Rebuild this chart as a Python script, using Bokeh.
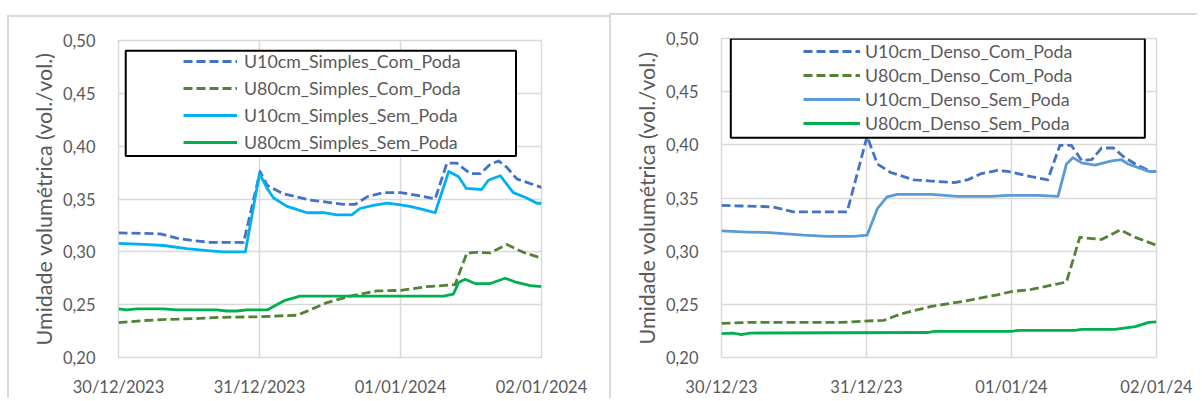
from bokeh.plotting import figure
from bokeh.models import (Legend, LegendItem, BoxAnnotation, FixedTicker, Range1d,
                          CustomJSTickFormatter)
from bokeh.layouts import row
from bokeh.embed import file_html
from bokeh.resources import INLINE

# ---------------- data (hours since 30/12 00:00) ----------------
DAY_TICKS = [0, 24, 48, 72]
S_TICK_LABELS = ["30/12/2023", "31/12/2023", "01/01/2024", "02/01/2024"]
D_TICK_LABELS = ["30/12/23", "31/12/23", "01/01/24", "02/01/24"]
Y_TICKS = [0.20, 0.25, 0.30, 0.35, 0.40, 0.45, 0.50]
Y_TITLE = "Umidade volumétrica (vol./vol.)"

# Simples
S_U10_COM_H = [0, 7.1, 9.9, 12.2, 15.6, 21.3, 24.1, 25.3, 28.0, 32.6, 38.3, 40.3, 42.3, 45.1,
               48.0, 51.4, 53.9, 55.9, 57.6, 58.7, 59.9, 61.6, 63.3, 64.7, 66.1, 67.8, 72.0]
S_U10_COM = [0.318, 0.317, 0.313, 0.311, 0.309, 0.309, 0.376, 0.363, 0.355, 0.349, 0.345, 0.345,
             0.352, 0.356, 0.356, 0.353, 0.350, 0.384, 0.384, 0.379, 0.374, 0.374, 0.383, 0.386,
             0.380, 0.369, 0.361]
S_U80_COM_H = [0, 4.3, 8.2, 13.9, 17.3, 23.5, 30.4, 32.6, 35.5, 39.4, 44.0, 48.0, 52.5, 57.3,
               59.3, 61.0, 63.3, 66.1, 68.9, 72.0]
S_U80_COM = [0.233, 0.235, 0.236, 0.237, 0.238, 0.2385, 0.240, 0.245, 0.252, 0.258, 0.263, 0.2635,
             0.267, 0.269, 0.299, 0.2995, 0.299, 0.307, 0.2995, 0.294]
S_U10_SEM_H = [0, 4.3, 7.7, 11.6, 15.6, 17.9, 21.6, 24.0, 25.3, 26.4, 28.7, 32.1, 34.9, 37.2,
               39.7, 41.1, 43.4, 45.7, 47.4, 49.6, 51.9, 53.9, 56.2, 57.9, 59.2, 61.8, 63.0,
               65.0, 67.2, 69.5, 71.2, 72.0]
S_U10_SEM = [0.308, 0.307, 0.306, 0.303, 0.301, 0.300, 0.300, 0.374, 0.360, 0.351, 0.343, 0.337,
             0.337, 0.335, 0.335, 0.341, 0.344, 0.346, 0.345, 0.343, 0.340, 0.337, 0.376, 0.371,
             0.360, 0.359, 0.368, 0.372, 0.356, 0.351, 0.346, 0.346]
S_U80_SEM_H = [0, 1.4, 3.1, 7.7, 9.9, 16.7, 18.4, 20.1, 21.9, 25.3, 28.1, 30.9, 55.3, 57.0,
               57.9, 59.0, 60.7, 63.3, 65.8, 67.8, 70.1, 72.0]
S_U80_SEM = [0.246, 0.245, 0.246, 0.246, 0.245, 0.245, 0.244, 0.244, 0.245, 0.245, 0.2535, 0.258,
             0.258, 0.260, 0.271, 0.274, 0.270, 0.270, 0.275, 0.271, 0.268, 0.267]

# Denso
D_U10_COM_H = [0, 6.9, 8.6, 11.9, 20.8, 24.1, 25.8, 28.0, 31.9, 38.5, 40.7, 43.0, 45.7, 47.4,
               51.3, 54.0, 56.0, 57.9, 59.6, 61.3, 62.9, 64.9, 66.5, 68.5, 71.0, 72.0]
D_U10_COM = [0.343, 0.342, 0.3415, 0.337, 0.337, 0.408, 0.382, 0.374, 0.367, 0.3645, 0.367,
             0.373, 0.376, 0.375, 0.370, 0.367, 0.3995, 0.3995, 0.3855, 0.386, 0.397, 0.397,
             0.389, 0.382, 0.375, 0.375]
D_U80_COM_H = [0, 4.2, 19.7, 23.0, 26.9, 29.7, 34.7, 40.2, 45.7, 48.0, 51.3, 57.1, 59.3, 62.9,
               66.0, 68.5, 72.0]
D_U80_COM = [0.232, 0.233, 0.233, 0.234, 0.235, 0.241, 0.248, 0.253, 0.259, 0.262, 0.264, 0.271,
             0.313, 0.311, 0.320, 0.313, 0.3055]
D_U10_SEM_H = [0, 4.2, 8.0, 13.6, 17.5, 21.9, 24.1, 25.8, 27.4, 29.1, 34.7, 39.1, 44.6, 47.4,
               52.4, 55.7, 57.1, 58.2, 59.6, 61.8, 64.6, 66.2, 67.3, 70.7, 72.0]
D_U10_SEM = [0.319, 0.318, 0.3175, 0.315, 0.314, 0.314, 0.315, 0.340, 0.351, 0.3535, 0.3535,
             0.3515, 0.3515, 0.3525, 0.3525, 0.3515, 0.382, 0.388, 0.383, 0.381, 0.385, 0.386,
             0.382, 0.375, 0.375]
D_U80_SEM_H = [0, 1.9, 3.3, 4.7, 34.1, 35.2, 48.0, 49.1, 58.5, 59.6, 65.1, 68.5, 70.7, 72.0]
D_U80_SEM = [0.2225, 0.223, 0.2215, 0.223, 0.2235, 0.2245, 0.2245, 0.2255, 0.2255, 0.2265,
             0.2265, 0.229, 0.233, 0.2335]

S_NAMES = ["U10cm_Simples_Com_Poda", "U80cm_Simples_Com_Poda",
           "U10cm_Simples_Sem_Poda", "U80cm_Simples_Sem_Poda"]
D_NAMES = ["U10cm_Denso_Com_Poda", "U80cm_Denso_Com_Poda",
           "U10cm_Denso_Sem_Poda", "U80cm_Denso_Sem_Poda"]

FONT = "Lato"
TICK_FS = "16.5px"
LEG_FS = "17.8px"
TITLE_FS = "21.5px"
TXT = "#595959"
GRID = "#d9d9d9"
BORDER = "#d9d9d9"
DASH = "9 4"
LW = 2.8


def make_panel(series, names, colors, dashes, tick_labels, width, height, mb, styles,
               leg_loc, leg_spacing, glyph_w, standoff, box):
    p = figure(width=width, height=height, output_backend="svg", toolbar_location=None,
               x_range=Range1d(0, 72), y_range=Range1d(0.20, 0.50),
               min_border_left=mb[0], min_border_right=mb[1],
               min_border_top=mb[2], min_border_bottom=mb[3], styles=styles)
    p.background_fill_color = "white"
    p.border_fill_color = "white"
    p.outline_line_color = GRID
    p.outline_line_width = 1.5

    xax = p.xaxis[0]
    yax = p.yaxis[0]
    xax.ticker = FixedTicker(ticks=DAY_TICKS)
    xax.major_label_overrides = {t: l for t, l in zip(DAY_TICKS, tick_labels)}
    yax.ticker = FixedTicker(ticks=Y_TICKS)
    yax.formatter = CustomJSTickFormatter(code="return tick.toFixed(2).replace('.', ',');")
    for ax in (xax, yax):
        ax.axis_line_color = None
        ax.major_tick_line_color = None
        ax.minor_tick_line_color = None
        ax.major_label_text_font = FONT
        ax.major_label_text_font_size = TICK_FS
        ax.major_label_text_color = TXT
    yax.major_label_standoff = 17
    xax.major_label_standoff = 13
    yax.axis_label = Y_TITLE
    yax.axis_label_text_font = FONT
    yax.axis_label_text_font_size = TITLE_FS
    yax.axis_label_text_font_style = "normal"
    yax.axis_label_text_color = TXT
    yax.axis_label_standoff = 3

    p.xgrid.ticker = FixedTicker(ticks=DAY_TICKS)
    p.ygrid.ticker = FixedTicker(ticks=Y_TICKS)
    p.grid.grid_line_color = GRID
    p.grid.grid_line_width = 1.5

    items = []
    for (hx, vy), name, col, dsh in zip(series, names, colors, dashes):
        r = p.line(hx, vy, line_color=col, line_width=LW, line_dash=dsh,
                   line_join="round", line_cap="butt")
        items.append(LegendItem(label=name, renderers=[r]))

    frame_box = BoxAnnotation(left=box[0], right=box[1], top=box[2], bottom=box[3],
                              fill_color="white", fill_alpha=1.0,
                              line_color="black", line_alpha=1.0, line_width=2)
    p.add_layout(frame_box)

    leg = Legend(items=items, location=leg_loc, margin=0, padding=0,
                 spacing=leg_spacing, label_height=22, glyph_height=22,
                 glyph_width=glyph_w, label_standoff=standoff,
                 label_text_font=FONT, label_text_font_size=LEG_FS, label_text_color=TXT,
                 background_fill_alpha=0, border_line_alpha=0)
    p.add_layout(leg, "center")
    return p


COLORS_S = ["#4472c4", "#548235", "#00b0f0", "#00b050"]
COLORS_D = ["#4472c4", "#548235", "#5b9bd5", "#00b050"]
DASHES = [DASH, DASH, "solid", "solid"]

p1 = make_panel(
    [(S_U10_COM_H, S_U10_COM), (S_U80_COM_H, S_U80_COM),
     (S_U10_SEM_H, S_U10_SEM), (S_U80_SEM_H, S_U80_SEM)],
    S_NAMES, COLORS_S, DASHES, S_TICK_LABELS,
    width=602, height=383, mb=(109, 70, 22, 42),
    styles={"margin-left": "7px", "margin-top": "15px",
            "border-top": f"2px solid {BORDER}", "border-left": f"2px solid {BORDER}"},
    leg_loc=(65, 204), leg_spacing=5, glyph_w=54, standoff=7,
    box=(1.23, 67.66, 0.4903, 0.3908))

p2 = make_panel(
    [(D_U10_COM_H, D_U10_COM), (D_U80_COM_H, D_U80_COM),
     (D_U10_SEM_H, D_U10_SEM), (D_U80_SEM_H, D_U80_SEM)],
    D_NAMES, COLORS_D, DASHES, D_TICK_LABELS,
    width=588, height=385, mb=(110, 43, 23, 43),
    styles={"margin-top": "13px",
            "border-top": f"2px solid {BORDER}", "border-left": f"2px solid {BORDER}"},
    leg_loc=(82, 223), leg_spacing=2, glyph_w=57, standoff=5,
    box=(1.54, 70.07, 0.4997, 0.4066))

layout = row(p1, p2)
open("out.html", "w").write(file_html(layout, INLINE))
